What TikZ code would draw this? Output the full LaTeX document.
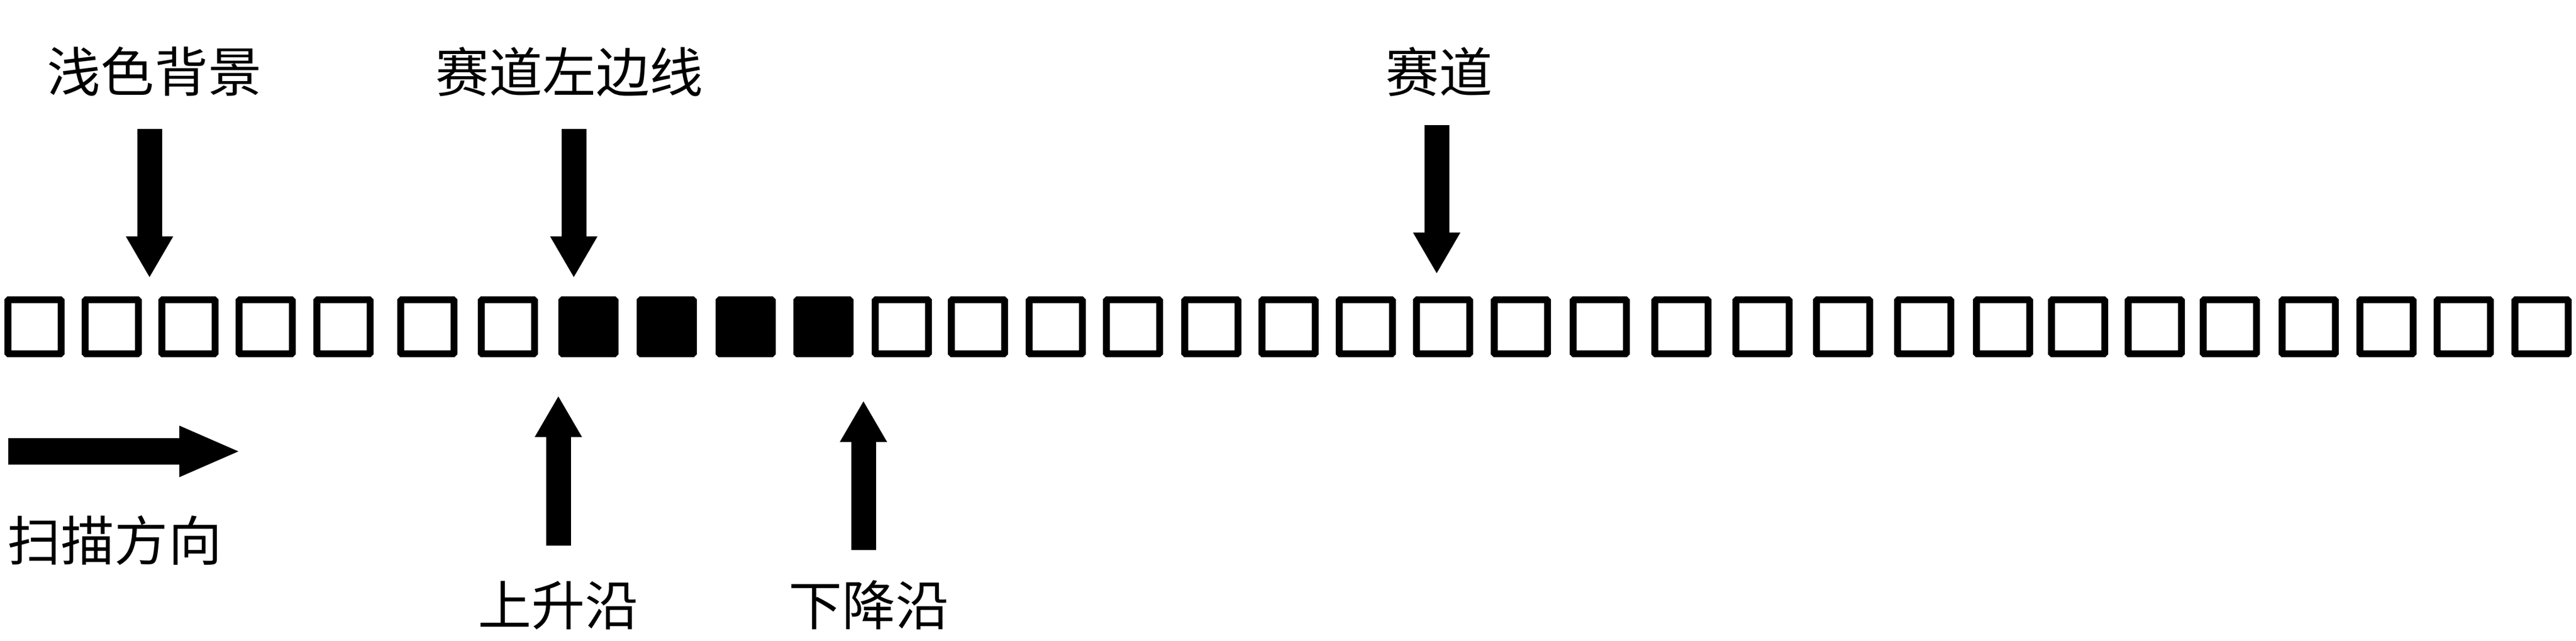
\documentclass[tikz,border=0pt]{standalone}
\usepackage{fontspec}
\newfontfamily\cjk{Noto Sans CJK SC}
\usetikzlibrary{arrows.meta}
\tikzset{
  cell/.style={draw=black, line width=0.125cm, minimum width=0.965cm, minimum height=0.98cm, inner sep=0pt, rounded corners=0.5pt},
  opencell/.style={cell, fill=white},
  fullcell/.style={cell, fill=black},
  lbl/.style={inner sep=0pt, font=\cjk\fontsize{27.6}{30}\selectfont},
  bigarrow/.style={line width=0.45cm, -{Triangle[width=0.8cm,length=0.75cm]}},
  scanarrow/.style={line width=0.48cm, -{Triangle[width=0.84cm,length=1.12cm]}}
}
\begin{document}
\begin{tikzpicture}
\useasboundingbox (0,0) rectangle (46.69,11.63);
% cells (left edges in px of the reference)
\foreach \i/\l in {0/8,1/148,2/287,3/427,4/568,5/720,6/866,7/1012,8/1154,9/1297,10/1438,
  11/1580,12/1718,13/1859,14/1999,15/2141,16/2281,17/2421,18/2561,19/2702,20/2845,21/2993,
  22/3140,23/3286,24/3433,25/3576,26/3712,27/3851,28/3987,29/4130,30/4271,31/4411,32/4552}{
  \pgfmathsetmacro{\xx}{(\l+54.5)/100}
  \ifnum\i>6 \ifnum\i<11
    \node[fullcell] (b\i) at (\xx,5.70) {};
  \else
    \node[opencell] (b\i) at (\xx,5.70) {};
  \fi\else
    \node[opencell] (b\i) at (\xx,5.70) {};
  \fi
}
% labels
\node[lbl] (bg) at (2.80,10.33) {浅色背景};
\node[lbl] (left) at (10.32,10.33) {赛道左边线};
\node[lbl] (track) at (26.08,10.33) {赛道};
\node[lbl] (scan) at (2.08,1.83) {扫描方向};
\node[lbl] (rise) at (10.12,0.65) {上升沿};
\node[lbl] (fall) at (15.75,0.65) {下降沿};
% arrow end points
\coordinate (bgs) at (2.71,9.29);
\coordinate (bgt) at (2.71,6.59);
\coordinate (lfs) at (10.40,9.29);
\coordinate (lft) at (10.40,6.59);
\coordinate (trs) at (26.04,9.36);
\coordinate (trt) at (26.04,6.66);
\coordinate (rss) at (10.12,1.73);
\coordinate (rst) at (10.12,4.45);
\coordinate (fls) at (15.65,1.65);
\coordinate (flt) at (15.65,4.36);
\coordinate (scs) at (0.15,3.44);
\coordinate (sct) at (4.37,3.44);
% arrows
\draw[bigarrow] (bgs) -- (bgt);
\draw[bigarrow] (lfs) -- (lft);
\draw[bigarrow] (trs) -- (trt);
\draw[bigarrow] (rss) -- (rst);
\draw[bigarrow] (fls) -- (flt);
\draw[scanarrow] (scs) -- (sct);
\end{tikzpicture}
\end{document}
